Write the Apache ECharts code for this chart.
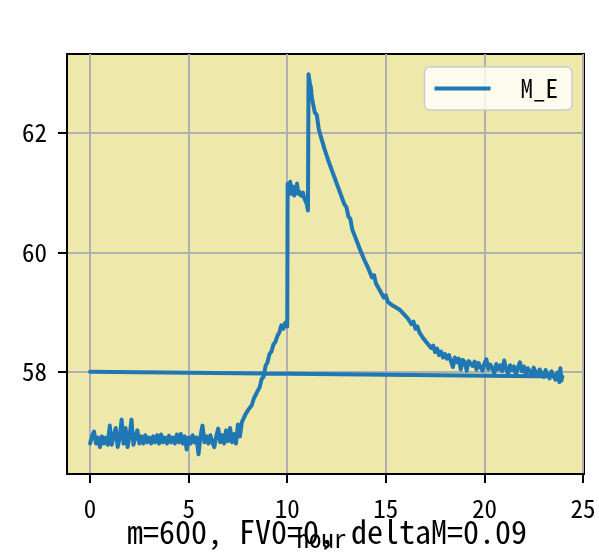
<!DOCTYPE html>
<html>
<head>
<meta charset="utf-8">
<script src="https://cdn.jsdelivr.net/npm/echarts@6/dist/echarts.min.js"></script>
<style>
  html, body { margin: 0; padding: 0; background: #fff; }
  #chart { width: 599px; height: 556px; }
</style>
</head>
<body>
<div id="chart"></div>
<script>
// 时间(小时)
var hours = [
  0.0, 0.1, 0.2, 0.3, 0.4, 0.5, 0.6, 0.7, 0.8, 0.9,
  1.0, 1.1, 1.2, 1.3, 1.4, 1.5, 1.6, 1.7, 1.8, 1.9,
  2.0, 2.1, 2.2, 2.3, 2.4, 2.5, 2.6, 2.7, 2.8, 2.9,
  3.0, 3.1, 3.2, 3.3, 3.4, 3.5, 3.6, 3.7, 3.8, 3.9,
  4.0, 4.1, 4.2, 4.3, 4.4, 4.5, 4.6, 4.7, 4.8, 4.9,
  5.0, 5.1, 5.2, 5.3, 5.4, 5.5, 5.6, 5.7, 5.8, 5.9,
  6.0, 6.1, 6.2, 6.3, 6.4, 6.5, 6.6, 6.7, 6.8, 6.9,
  7.0, 7.1, 7.2, 7.3, 7.4, 7.5, 7.6, 7.7, 7.8, 7.9,
  8.0, 8.1, 8.2, 8.3, 8.4, 8.5, 8.6, 8.7, 8.8, 8.9,
  9.0, 9.1, 9.2, 9.3, 9.4, 9.5, 9.6, 9.7, 9.8, 9.9,
  10.0, 10.02, 10.1, 10.15, 10.2, 10.3, 10.35, 10.4, 10.5, 10.55,
  10.6, 10.7, 10.8, 10.85, 10.9, 11.0, 11.05, 11.08, 11.15, 11.2,
  11.25, 11.3, 11.4, 11.5, 11.6, 11.65, 11.7, 11.8, 11.9, 12.0,
  12.1, 12.2, 12.3, 12.4, 12.5, 12.6, 12.7, 12.8, 12.9, 13.0,
  13.1, 13.2, 13.3, 13.4, 13.5, 13.6, 13.7, 13.8, 13.9, 14.0,
  14.1, 14.2, 14.3, 14.4, 14.5, 14.6, 14.7, 14.8, 14.9, 15.0,
  15.1, 15.2, 15.3, 15.4, 15.5, 15.6, 15.7, 15.8, 15.9, 16.0,
  16.1, 16.2, 16.3, 16.4, 16.5, 16.6, 16.7, 16.8, 16.9, 17.0,
  17.1, 17.2, 17.3, 17.4, 17.5, 17.6, 17.7, 17.8, 17.9, 18.0,
  18.1, 18.2, 18.3, 18.4, 18.5, 18.6, 18.7, 18.8, 18.9, 19.0,
  19.1, 19.2, 19.3, 19.4, 19.5, 19.6, 19.7, 19.8, 19.9, 20.0,
  20.1, 20.2, 20.3, 20.4, 20.5, 20.6, 20.7, 20.8, 20.9, 21.0,
  21.1, 21.2, 21.3, 21.4, 21.5, 21.6, 21.7, 21.8, 21.9, 22.0,
  22.1, 22.2, 22.3, 22.4, 22.5, 22.6, 22.7, 22.8, 22.9, 23.0,
  23.1, 23.2, 23.3, 23.4, 23.5, 23.6, 23.7, 23.8, 23.85, 23.9,
  23.95, 0.0
];
// M_E 数值
var mE = [
  56.80, 56.92, 57.00, 56.80, 56.90, 56.74, 56.92, 56.80, 56.90, 56.78,
  57.10, 56.78, 56.92, 57.06, 56.74, 56.90, 57.20, 56.80, 57.06, 56.74,
  56.92, 57.20, 56.78, 56.76, 57.02, 56.80, 56.92, 56.80, 56.94, 56.82,
  56.90, 56.80, 56.92, 56.82, 56.94, 56.80, 56.95, 56.82, 56.90, 56.80,
  56.93, 56.82, 56.90, 56.80, 56.95, 56.82, 56.96, 56.80, 56.92, 56.70,
  56.90, 56.80, 56.94, 56.82, 56.90, 56.62, 56.92, 57.10, 56.82, 56.92,
  56.80, 56.94, 56.82, 56.74, 56.92, 57.05, 56.82, 56.94, 56.80, 57.02,
  56.84, 57.06, 56.82, 56.96, 56.80, 57.12, 56.92, 57.16, 57.18, 57.30,
  57.28, 57.40, 57.44, 57.55, 57.58, 57.68, 57.74, 57.88, 57.92, 58.10,
  58.16, 58.30, 58.34, 58.46, 58.50, 58.60, 58.66, 58.78, 58.72, 58.82,
  58.76, 61.15, 61.00, 61.18, 60.98, 61.10, 60.95, 61.00, 61.15, 60.98,
  61.02, 60.95, 61.00, 60.92, 60.88, 60.80, 60.70, 62.98, 62.82, 62.76,
  62.58, 62.58, 62.34, 62.30, 62.06, 62.08, 61.94, 61.92, 61.72, 61.72,
  61.52, 61.52, 61.34, 61.34, 61.16, 61.16, 60.98, 60.97, 60.80, 60.76,
  60.60, 60.56, 60.38, 60.38, 60.21, 60.20, 60.04, 60.04, 59.88, 59.89,
  59.74, 59.76, 59.58, 59.62, 59.48, 59.49, 59.36, 59.37, 59.24, 59.28,
  59.17, 59.20, 59.12, 59.15, 59.08, 59.11, 59.04, 59.06, 58.97, 59.00,
  58.90, 58.92, 58.80, 58.84, 58.72, 58.76, 58.66, 58.68, 58.56, 58.59,
  58.48, 58.51, 58.40, 58.44, 58.33, 58.39, 58.28, 58.34, 58.24, 58.30,
  58.22, 58.28, 58.18, 58.08, 58.24, 58.16, 58.22, 58.04, 58.20, 58.16,
  58.02, 58.18, 58.16, 58.10, 58.17, 58.04, 58.15, 58.08, 58.02, 58.14,
  58.21, 58.04, 58.12, 58.06, 57.98, 58.13, 58.04, 58.11, 58.01, 58.19,
  58.05, 57.97, 58.11, 58.03, 58.09, 57.95, 58.07, 58.16, 58.01, 58.09,
  57.95, 58.06, 58.01, 57.94, 58.07, 57.99, 57.93, 58.04, 57.97, 57.91,
  58.03, 57.95, 57.89, 58.01, 57.94, 57.87, 57.99, 57.83, 58.06, 57.85,
  57.92, 58.00
];
var xTicks = [0, 5, 10, 15, 20, 25];
var yTicks = [58, 60, 62];
var seriesName = 'M_E';
var titleText = 'm=600, FV0=0, deltaM=0.09';
var xName = 'hour';

var myChart = echarts.init(document.getElementById('chart'));
var fontMono = "'Noto Sans Mono CJK SC', 'DejaVu Sans Mono', monospace";

var points = [];
for (var i = 0; i < hours.length; i++) {
    points.push([hours[i], mE[i]]);
}

var option = {
    animation: false,
    backgroundColor: '#ffffff',
    title: {
        text: titleText,
        left: 122,
        top: 511,
        textStyle: { fontFamily: fontMono, fontSize: 32, fontWeight: 'normal', color: '#000' }
    },
    legend: {
        right: 27,
        top: 67,
        icon: 'rect',
        itemWidth: 56,
        itemHeight: 4,
        padding: [9, 14, 9, 10],
        backgroundColor: 'rgba(255,255,255,0.8)',
        borderColor: '#cccccc',
        borderWidth: 1.5,
        borderRadius: 5,
        formatter: function (name) { return '  ' + name; },
        textStyle: { fontFamily: fontMono, fontSize: 25, color: '#000' },
        data: [seriesName]
    },
    grid: {
        left: 67,
        top: 54,
        right: 15,
        bottom: 82,
        show: true,
        backgroundColor: '#eee8aa',
        borderColor: '#000',
        borderWidth: 2
    },
    xAxis: {
        type: 'value',
        min: -1.17,
        max: 25.05,
        name: xName,
        nameLocation: 'middle',
        nameGap: 47,
        nameTextStyle: { fontFamily: fontMono, fontSize: 25, color: '#000', padding: [0, 8, 0, 0] },
        axisLine: { show: true, onZero: false, lineStyle: { color: '#000', width: 2 } },
        axisTick: { show: true, inside: false, customValues: xTicks, length: 9, lineStyle: { color: '#000', width: 2 } },
        axisLabel: { customValues: xTicks, margin: 22, fontFamily: fontMono, fontSize: 25, color: '#000' },
        splitLine: { show: true, lineStyle: { color: '#b0b0b0', width: 2 } }
    },
    yAxis: {
        type: 'value',
        min: 56.29,
        max: 63.32,
        axisLine: { show: true, onZero: false, lineStyle: { color: '#000', width: 2 } },
        axisTick: { show: true, inside: false, customValues: yTicks, length: 9, lineStyle: { color: '#000', width: 2 } },
        axisLabel: { customValues: yTicks, margin: 20, fontFamily: fontMono, fontSize: 25, color: '#000' },
        splitLine: { show: true, lineStyle: { color: '#b0b0b0', width: 2 } }
    },
    series: [
        {
            name: seriesName,
            type: 'line',
            showSymbol: false,
            color: '#1f77b4',
            lineStyle: { width: 4, color: '#1f77b4', join: 'round', cap: 'round' },
            data: points
        }
    ]
};

myChart.setOption(option);
</script>
</body>
</html>
